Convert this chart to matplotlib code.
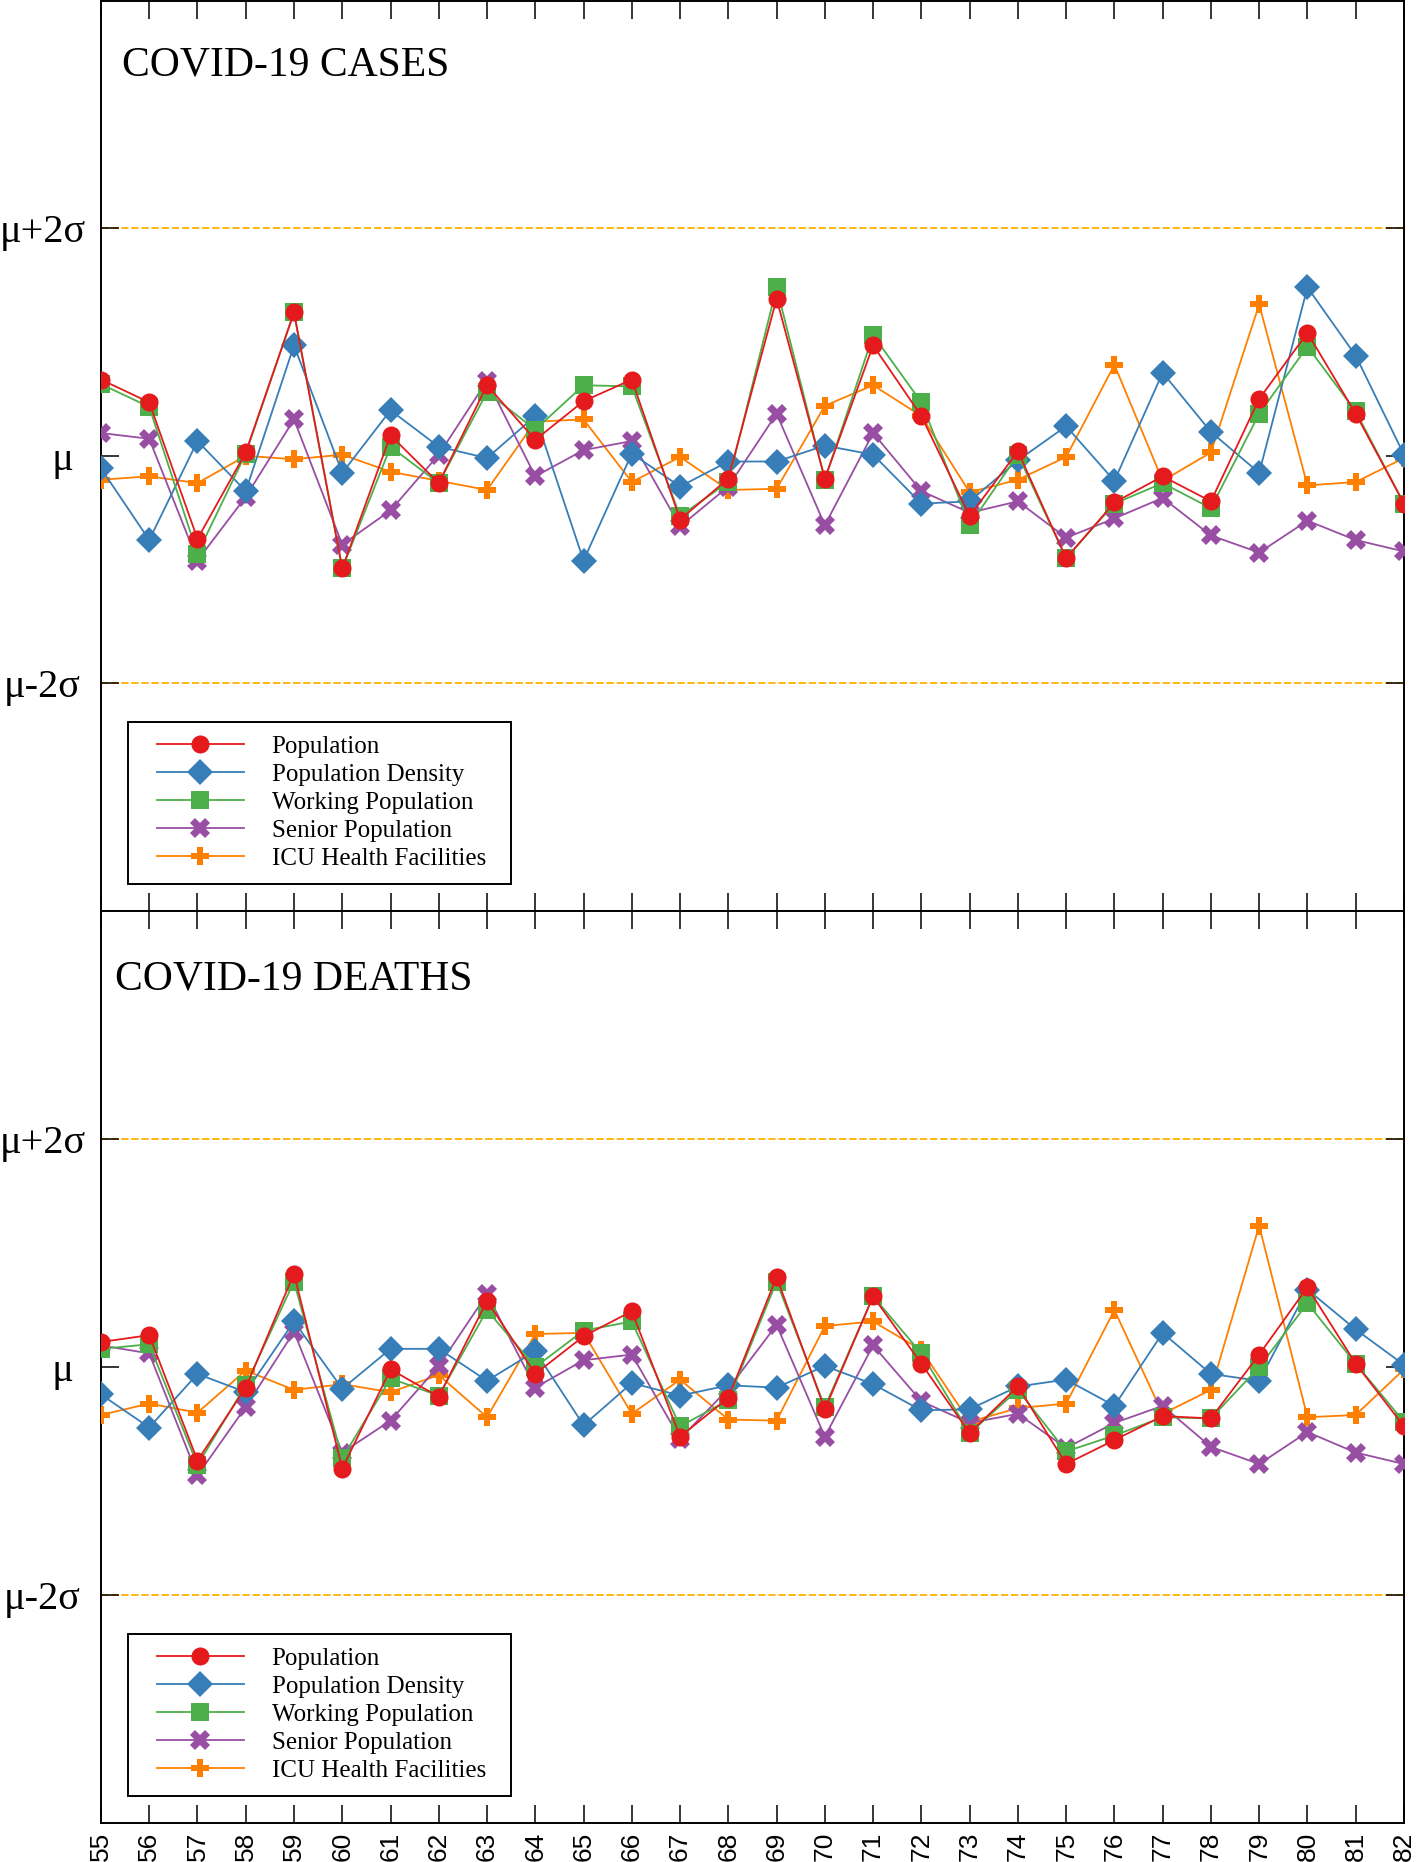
import numpy as np
import matplotlib
matplotlib.use('Agg')
import matplotlib.pyplot as plt
from matplotlib.lines import Line2D
from matplotlib.legend_handler import HandlerLine2D

plt.rcParams['font.family'] = ['Liberation Serif', 'DejaVu Serif']

##################################################################
# Data (values in units of sigma around the mean)
##################################################################
ids = list(range(55, 83))

cases_population = [0.67, 0.47, -0.73, 0.03, 1.26, -0.99, 0.18, -0.24, 0.62, 0.14,
                    0.48, 0.67, -0.56, -0.20, 1.38, -0.20, 0.97, 0.35, -0.53, 0.04,
                    -0.90, -0.41, -0.18, -0.40, 0.50, 1.08, 0.37, -0.42]
cases_density = [-0.11, -0.74, 0.13, -0.31, 0.97, -0.15, 0.40, 0.08, -0.02, 0.35,
                 -0.92, 0.02, -0.27, -0.05, -0.05, 0.09, 0.01, -0.42, -0.40, -0.04,
                 0.26, -0.22, 0.73, 0.21, -0.15, 1.48, 0.88, 0.01]
cases_working = [0.63, 0.43, -0.86, 0.02, 1.26, -0.99, 0.08, -0.24, 0.56, 0.23,
                 0.62, 0.61, -0.53, -0.23, 1.48, -0.21, 1.06, 0.47, -0.61, 0.01,
                 -0.90, -0.42, -0.24, -0.46, 0.37, 0.96, 0.39, -0.42]
cases_senior = [0.20, 0.15, -0.92, -0.36, 0.32, -0.78, -0.48, 0.01, 0.66, -0.18,
                0.05, 0.13, -0.62, -0.27, 0.37, -0.61, 0.20, -0.31, -0.50, -0.40,
                -0.72, -0.55, -0.37, -0.70, -0.85, -0.57, -0.74, -0.84]
cases_icu = [-0.21, -0.18, -0.24, 0.00, -0.03, 0.01, -0.14, -0.22, -0.30, 0.30,
             0.32, -0.23, -0.01, -0.30, -0.29, 0.44, 0.62, 0.35, -0.32, -0.21,
             -0.01, 0.80, -0.22, 0.03, 1.33, -0.26, -0.23, -0.02]

deaths_population = [0.22, 0.28, -0.82, -0.18, 0.82, -0.89, -0.02, -0.26, 0.58, -0.06,
                     0.27, 0.49, -0.61, -0.27, 0.79, -0.37, 0.62, 0.03, -0.58, -0.17,
                     -0.85, -0.64, -0.43, -0.45, 0.11, 0.70, 0.03, -0.52]
deaths_density = [-0.24, -0.53, -0.06, -0.22, 0.40, -0.19, 0.16, 0.16, -0.12, 0.14,
                  -0.51, -0.14, -0.25, -0.16, -0.18, 0.01, -0.15, -0.38, -0.37, -0.17,
                  -0.11, -0.34, 0.30, -0.06, -0.12, 0.68, 0.33, 0.02]
deaths_working = [0.16, 0.20, -0.86, -0.16, 0.75, -0.80, -0.10, -0.25, 0.50, 0.00,
                  0.32, 0.40, -0.52, -0.29, 0.75, -0.35, 0.62, 0.12, -0.58, -0.20,
                  -0.74, -0.60, -0.44, -0.45, 0.00, 0.56, 0.03, -0.48]
deaths_senior = [0.19, 0.12, -0.95, -0.35, 0.31, -0.75, -0.47, 0.01, 0.64, -0.18,
                 0.06, 0.11, -0.63, -0.19, 0.37, -0.61, 0.19, -0.30, -0.49, -0.41,
                 -0.71, -0.49, -0.34, -0.70, -0.85, -0.57, -0.75, -0.85]
deaths_icu = [-0.42, -0.32, -0.40, -0.03, -0.20, -0.15, -0.22, -0.07, -0.44, 0.29,
              0.30, -0.41, -0.11, -0.46, -0.47, 0.36, 0.40, 0.15, -0.48, -0.36,
              -0.32, 0.50, -0.41, -0.20, 1.24, -0.44, -0.42, -0.02]

labels = ['Population', 'Population Density', 'Working Population',
          'Senior Population', 'ICU Health Facilities']
colors = ['#e41a1c', '#377eb8', '#4daf4a', '#984ea3', '#ff7f00']
markers = ['o', 'D', 's', 'X', 'P']
sizes = [13, 13, 13, 14, 13.5]
zorders = [7, 5, 6, 4, 3]

ytick_vals = [-2, 0, 2]
ytick_labels = ['μ-2σ', '\u2003μ', 'μ+2σ']

##################################################################
# Plot figure
##################################################################
fig = plt.figure(figsize=(14.18, 18.62), dpi=100)
ax1 = fig.add_axes([0.0712, 0.5107, 0.9189, 0.4890])
ax2 = fig.add_axes([0.0712, 0.0209, 0.9189, 0.4898])


def panel(ax, series, title, tx, ty, show_xlabels):
    handles = []
    for vals, lab, c, m, s, z in zip(series, labels, colors, markers, sizes, zorders):
        h, = ax.plot(ids, vals, color=c, marker=m, ms=s, mew=0, lw=1.3,
                     label=lab, zorder=z)
        handles.append(h)
    ax.axhline(2, color='#ffb000', lw=1.3, ls=(0, (4, 1.6)), zorder=1)
    ax.axhline(-2, color='#ffb000', lw=1.3, ls=(0, (4, 1.6)), zorder=1)

    ax.set_xlim(55, 82)
    ax.set_ylim(-4, 4)
    ax.set_xticks(ids)
    ax.set_xticklabels([str(i) for i in ids], rotation=90, fontsize=19,
                       family=['Liberation Sans', 'DejaVu Sans'])
    ax.set_yticks(ytick_vals)
    ax.set_yticklabels(ytick_labels, fontsize=29)
    ax.tick_params(direction='in', length=13, width=1.1, top=True, right=True,
                   labelbottom=show_xlabels)
    ax.tick_params(axis='x', pad=6)
    ax.tick_params(axis='y', pad=42)
    for lbl in ax.get_yticklabels():
        lbl.set_ha('center')
    for sp in ax.spines.values():
        sp.set_linewidth(1.4)

    ax.text(tx, ty, title, transform=ax.transAxes, fontsize=30)

    # handle box padded on the left so the sample line sits further in;
    # expand mode fixes the frame width
    leg = ax.legend(handles=handles, loc='lower left', fontsize=18,
                    bbox_to_anchor=(0, 0, 0.336, 1), mode='expand',
                    handler_map={Line2D: HandlerLine2D(xpad=0.58)},
                    handlelength=4.08, handletextpad=1.1, borderpad=0.55,
                    borderaxespad=1.1, labelspacing=0.22, fancybox=False,
                    edgecolor='black', framealpha=1)
    leg.get_frame().set_linewidth(1.4)


panel(ax1, [cases_population, cases_density, cases_working, cases_senior, cases_icu],
      'COVID-19 CASES', 0.016, 0.918, False)
panel(ax2, [deaths_population, deaths_density, deaths_working, deaths_senior, deaths_icu],
      'COVID-19 DEATHS', 0.011, 0.914, True)

fig.savefig('out.png', dpi=100)
